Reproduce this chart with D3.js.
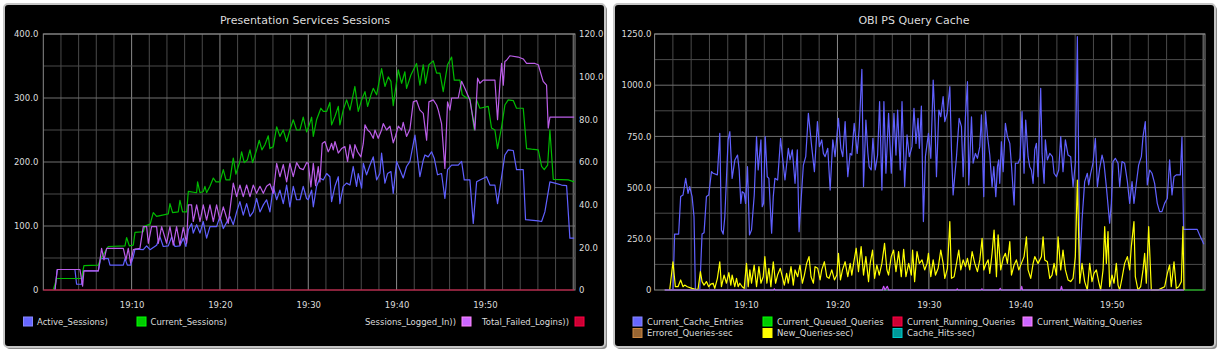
<!DOCTYPE html>
<html><head><meta charset="utf-8">
<script src="https://cdn.jsdelivr.net/npm/d3@7"></script>
<style>
body{margin:0;background:#fff;}
svg{display:block;}
text{font-family:"DejaVu Sans",sans-serif;}
</style></head><body>
<svg id="c" width="1223" height="358"></svg>
<script>
// ---------- DATA (time in minutes after 19:00, value) ----------
const xTickMinutes = [10, 20, 30, 40, 50];
const xTickLabels = ["19:10", "19:20", "19:30", "19:40", "19:50"];
const sessionTicksLeft = [0, 100, 200, 300, 400];
const sessionTicksRight = [0, 20, 40, 60, 80, 100, 120];
const cacheTicks = [0, 250, 500, 750, 1000, 1250];

const activeSessions = [[1.32,0],[1.58,32],[3.58,32],[3.77,9],[4.34,9],[4.53,30],[6.23,30],[6.49,49],[7.36,49],[7.55,39],[9.06,39],[9.25,49],[9.51,39],[9.89,39],[10.19,52],[10.38,64],[11.32,63],[11.7,69],[12.08,63],[12.83,70],[13.21,83],[13.58,68],[14.15,69],[14.53,83],[14.91,68],[15.47,69],[15.85,81],[16.15,68],[16.42,94],[16.79,104],[16.98,89],[17.36,102],[17.74,89],[18.11,107],[18.49,81],[18.87,99],[19.62,99],[20,115],[20.38,96],[21.13,115],[21.51,102],[21.89,122],[22.26,138],[22.64,117],[23.02,135],[23.4,115],[23.77,122],[24.15,143],[24.53,122],[24.91,133],[25.28,141],[25.66,122],[26.04,162],[26.42,141],[26.79,156],[27.17,135],[27.55,164],[27.92,130],[28.3,162],[28.68,141],[29.06,141],[29.43,162],[29.81,143],
[30,141],[30.38,156],[30.57,130],[30.94,162],[31.32,175],[31.7,172],[32.08,182],[32.45,177],[32.64,138],[33.02,162],[33.4,177],[33.58,135],[33.96,162],[34.34,167],[34.72,164],[35.09,193],[35.47,162],[35.66,182],[36.04,159],[36.23,198],[36.6,180],[36.98,195],[37.36,208],[37.74,172],[38.11,182],[38.3,214],[38.68,167],[38.98,182],[39.36,185],[39.62,151],[40,201],[40.38,188],[40.75,175],[41.13,193],[41.51,201],[42.08,242],[42.45,198],[42.64,177],[43.02,203],[43.21,211],[43.58,208],[43.96,216],[44.26,206],[44.64,180],[45.09,182],[45.47,143],[45.77,188],[46.23,195],[46.98,195],[47.36,201],[47.66,172],[48.3,172],[48.68,104],[49.06,169],[49.43,172],[50.19,177],[50.57,164],[51.13,164],[51.43,135],[51.89,177],[52.26,211],[52.64,219],[53.21,218],[53.58,188],[54.34,188],[54.6,110],[56.04,108],[56.42,107],[56.79,122],[57.36,169],[57.92,167],[58.68,164],[59.25,163],[59.62,81],[60.11,81]];

const currentSessions = [[1.13,0],[1.51,18],[4.34,18],[4.6,38],[6.23,39],[6.42,47],[7.36,68],[9.25,69],[9.43,82],[9.74,69],[10.19,70],[10.38,90],[11.32,91],[11.5,100],[12.1,103],[12.45,121],[12.83,115],[14.15,119],[14.34,135],[14.64,121],[15.28,122],[15.47,140],[15.77,122],[16.23,122],[16.42,154],[17.36,152],[17.47,169],[17.74,152],[18.11,154],[18.3,162],[18.49,152],[18.87,162],[19.25,175],[19.55,169],[20,169],[20.38,188],[20.68,172],[21.13,172],[21.51,206],[21.81,181],[22.26,201],[22.45,216],[22.75,199],[23.09,203],[23.4,219],[23.7,199],[24.15,219],[24.45,234],[24.75,219],[25.09,227],[25.47,241],[25.66,221],[26.04,224],[26.42,255],[26.79,240],[27.17,250],[27.55,232],[27.92,250],[28.3,266],[28.68,250],[29.06,250],[29.43,270],[29.81,247],
[30,253],[30.38,270],[30.57,240],[30.94,266],[31.43,284],[31.7,279],[32.08,279],[32.45,293],[32.64,258],[33.02,271],[33.4,287],[33.58,258],[33.96,281],[34.34,297],[34.72,281],[35.28,318],[35.66,279],[36.04,297],[36.42,310],[36.72,287],[37.1,305],[37.36,315],[37.74,305],[38.3,346],[38.68,318],[39.06,333],[39.36,326],[39.62,288],[40.19,344],[40.57,323],[40.94,341],[41.13,315],[41.62,336],[42.26,354],[42.64,320],[43.02,352],[43.28,323],[43.66,352],[44.15,358],[44.53,339],[44.91,339],[45.28,310],[45.77,352],[46.23,364],[46.53,328],[47.17,328],[47.43,305],[47.92,300],[48.3,300],[48.79,250],[49.06,297],[49.43,284],[50.38,287],[50.75,253],[51.13,250],[51.43,221],[51.89,255],[52.26,289],[52.64,297],[53.21,296],[53.58,284],[54.34,284],[54.72,221],[55.28,220],[56.04,219],[56.42,193],[56.72,188],[57.1,195],[57.36,250],[57.74,173],[59.43,172],[60.11,169]];

const sessionsLoggedIn = [[1.32,0],[1.58,32],[4.15,32],[4.45,6],[4.6,30],[6.23,30],[6.42,47],[6.6,65],[6.87,47],[7.17,65],[9.06,65],[9.36,47],[9.62,65],[9.89,42],[10.19,63],[10.94,65],[11.32,99],[11.7,99],[11.89,73],[12.26,99],[12.83,99],[13.02,73],[13.4,99],[13.96,73],[14.34,99],[14.72,70],[15.09,99],[15.47,70],[15.85,98],[16.23,73],[16.42,133],[16.79,133],[16.98,107],[17.36,133],[17.74,107],[18.11,133],[18.49,109],[18.87,133],[19.25,107],[19.62,133],[20,109],[20.38,130],[20.94,104],[21.51,167],[21.89,146],[22.26,164],[22.64,146],[23.02,164],[23.4,146],[23.77,164],[24.15,151],[24.53,162],[24.91,151],[25.28,162],[25.66,166],[26.04,151],[26.42,198],[26.79,177],[27.17,196],[27.55,169],[27.92,198],[28.3,177],[28.68,199],[29.06,190],[29.43,188],[29.81,199],
[30,198],[30.3,161],[30.57,198],[30.83,163],[31.13,193],[31.32,169],[31.58,229],[31.89,232],[32.26,216],[32.45,221],[32.64,229],[32.83,219],[33.02,232],[33.4,214],[33.77,221],[34.15,224],[34.45,201],[34.72,227],[35.09,206],[35.28,227],[35.58,216],[35.96,208],[36.23,229],[36.42,258],[36.72,250],[36.98,247],[37.36,237],[37.55,250],[37.92,237],[38.3,250],[38.49,260],[38.87,250],[39.25,256],[39.62,230],[39.89,241],[40.19,256],[40.57,250],[40.75,262],[41.13,240],[41.51,251],[41.89,294],[42.26,296],[42.64,281],[43.02,276],[43.4,234],[43.66,294],[44.15,297],[44.53,289],[44.72,281],[45.09,260],[45.47,190],[45.77,294],[46.04,281],[46.23,300],[46.98,300],[47.36,326],[47.74,315],[48.3,297],[48.68,266],[48.87,250],[49.17,331],[49.43,323],[49.81,328],[51.13,328],[51.43,266],[51.7,323],[51.89,354],[52.08,320],[52.26,357],[52.45,359],[52.83,366],[53.77,364],[54.34,361],[54.72,354],[55.66,354],[56.04,352],[56.6,326],[56.98,320],[57.17,253],[57.36,270],[60.11,270]];

const totalFailedLogins = [[0,0],[60.11,0]];

const cacheEntries = [[2.01,0],[2.19,273],[2.63,273],[2.85,456],[3.11,464],[3.4,545],[3.66,472],[3.84,505],[4.1,456],[4.31,358],[4.46,0],[4.94,0],[5.19,273],[5.41,280],[5.67,456],[5.92,464],[6.22,578],[6.4,570],[6.87,562],[7.13,765],[7.31,293],[7.5,273],[7.68,358],[8.04,733],[8.23,773],[8.48,545],[8.78,635],[9.07,659],[9.25,586],[9.43,423],[9.58,480],[9.8,472],[9.95,423],[10.16,602],[10.38,269],[10.6,293],[10.9,464],[11.15,749],[11.33,586],[11.63,733],[11.77,407],[11.92,423],[12.1,749],[12.32,553],[12.5,545],[12.8,277],[12.98,456],[13.16,545],[13.46,537],[13.78,741],[14,643],[14.26,537],[14.63,692],[14.81,635],[15.06,684],[15.36,521],[15.61,684],[15.8,285],[16.27,610],[16.53,651],[16.82,863],[17.18,700],[17.48,578],[17.81,822],[18.03,700],[18.28,733],[18.46,667],[18.65,651],[18.94,692],[19.2,488],[19.49,733],[19.74,651],[20.11,838],[20.37,692],[20.58,651],[20.84,822],[21.13,553],[21.39,667],[21.57,659],[21.83,814],[22.01,733],[22.16,667],[22.38,790],[22.67,1078],[22.85,505],[23.11,830],[23.33,667],[23.47,602],[23.69,586],[23.88,741],[24.13,586],[24.39,659],[24.61,920],[24.86,488],[25.08,920],[25.3,570],[25.59,863],[25.89,570],[26.18,863],[26.4,659],[26.58,879],[26.87,586],[27.06,920],[27.35,505],[27.61,757],[27.86,651],[28.15,700],[28.37,887],[28.59,716],[28.81,838],[28.96,692],[29.18,898],[29.4,334],[29.62,651],
[29.95,765],[30.21,643],[30.47,1025],[30.65,846],[30.83,553],[31.09,879],[31.3,846],[31.56,944],[31.74,822],[32,863],[32.29,993],[32.47,684],[32.65,464],[33.02,651],[33.31,838],[33.56,798],[33.75,553],[34,846],[34.22,1017],[34.36,513],[34.66,846],[34.84,619],[35.09,667],[35.31,643],[35.57,700],[35.75,855],[36,456],[36.19,871],[36.4,757],[36.66,659],[36.91,505],[37.1,602],[37.32,456],[37.5,602],[37.64,635],[37.75,521],[37.93,724],[38.12,578],[38.37,814],[38.59,749],[38.85,716],[39.03,610],[39.32,415],[39.46,619],[39.76,619],[39.97,643],[40.19,871],[40.41,570],[40.59,830],[40.85,651],[41.03,602],[41.21,586],[41.4,521],[41.58,684],[41.76,716],[41.94,553],[42.23,985],[42.38,667],[42.6,521],[42.74,733],[42.96,635],[43.22,667],[43.51,651],[43.69,570],[43.95,553],[44.2,586],[44.42,749],[44.67,578],[44.93,733],[45.22,659],[45.51,651],[45.77,505],[46.02,619],[46.24,1237],[46.5,106],[46.75,342],[47.04,529],[47.33,570],[47.48,513],[47.7,570],[47.95,619],[48.21,741],[48.43,505],[48.68,594],[48.94,659],[49.15,619],[49.41,505],[49.59,415],[49.77,326],[49.96,423],[50.14,627],[50.39,643],[50.69,619],[50.87,505],[51.12,627],[51.41,619],[51.71,529],[51.96,423],[52.22,529],[52.43,423],[52.69,521],[52.94,610],[53.24,651],[53.42,749],[53.67,822],[53.89,513],[54.15,586],[54.4,570],[54.69,521],[54.98,423],[55.24,383],[55.49,383],[55.78,423],[56.08,448],[56.33,635],[56.59,464],[56.81,553],[57.06,562],[57.5,562],[57.68,746],[57.86,296],[59.35,296],[59.61,269],[60.08,223]];

const newQueries = [[1.65,0],[2.01,138],[2.27,16],[2.56,16],[2.85,49],[3.11,16],[3.29,24],[3.58,16],[4.1,8],[4.46,3],[4.75,3],[5.01,90],[5.19,41],[5.41,24],[5.67,41],[5.92,16],[6.14,29],[6.4,33],[6.58,8],[6.87,57],[7.13,138],[7.31,16],[7.6,73],[7.86,33],[8.12,85],[8.34,24],[8.48,73],[8.77,16],[8.96,57],[9.14,16],[9.32,33],[9.58,16],[9.8,8],[10.05,130],[10.24,16],[10.42,98],[10.6,33],[10.89,122],[11.15,16],[11.41,114],[11.63,33],[11.88,65],[12.06,163],[12.28,33],[12.5,106],[12.72,16],[12.98,138],[13.23,33],[13.45,73],[13.75,106],[13.97,65],[14.19,24],[14.44,81],[14.62,33],[14.92,114],[15.17,24],[15.36,98],[15.65,65],[15.9,122],[16.16,33],[16.38,73],[16.63,130],[16.89,163],[17.11,65],[17.37,33],[17.55,114],[17.84,106],[18.1,49],[18.28,98],[18.57,138],[18.83,65],[19.08,57],[19.38,98],[19.67,49],[19.93,73],[20.11,179],[20.33,49],[20.55,98],[20.84,138],[21.13,65],[21.39,130],[21.57,73],[21.83,147],[22.05,204],[22.3,90],[22.59,212],[22.85,73],[23.11,163],[23.4,41],[23.58,130],[23.84,195],[24.06,57],[24.31,122],[24.57,73],[24.86,130],[25.15,228],[25.41,98],[25.59,73],[25.88,163],[26.14,195],[26.4,90],[26.69,187],[26.98,65],[27.24,199],[27.49,65],[27.79,130],[28.08,73],[28.22,195],[28.44,41],[28.7,187],[28.96,130],[29.25,147],[29.54,98],[29.8,130],
[29.95,179],[30.21,65],[30.47,147],[30.72,73],[31.01,106],[31.3,195],[31.56,130],[31.74,57],[32.03,106],[32.29,334],[32.47,57],[32.76,65],[33.02,130],[33.27,195],[33.49,98],[33.75,147],[34,114],[34.22,155],[34.47,98],[34.73,187],[35.02,130],[35.31,90],[35.57,147],[35.82,252],[36,98],[36.19,122],[36.48,147],[36.66,81],[36.91,179],[37.13,293],[37.39,65],[37.57,269],[37.86,98],[38.12,155],[38.37,179],[38.59,130],[38.85,236],[39.03,73],[39.32,122],[39.57,147],[39.83,98],[40.12,130],[40.41,163],[40.67,260],[40.85,98],[41.14,57],[41.4,130],[41.58,163],[41.94,130],[42.31,163],[42.49,260],[42.67,147],[42.96,138],[43.22,57],[43.47,73],[43.69,130],[43.95,73],[44.13,260],[44.42,98],[44.67,195],[44.93,98],[45.22,49],[45.51,41],[45.77,57],[46.02,163],[46.24,537],[46.5,33],[46.75,130],[47.04,41],[47.33,0],[47.59,130],[47.84,41],[48.06,81],[48.32,98],[48.57,41],[48.79,0],[49.05,98],[49.23,309],[49.41,130],[49.59,285],[49.77,16],[50.03,73],[50.25,33],[50.5,130],[50.69,24],[50.87,0],[51.12,57],[51.41,130],[51.71,163],[51.96,98],[52.14,212],[52.43,334],[52.58,65],[52.87,0],[53.16,16],[53.42,98],[53.6,179],[53.78,33],[54.04,309],[54.33,0],[55.06,0],[55.42,8],[55.79,16],[56.08,81],[56.33,122],[56.51,16],[56.81,138],[57.06,8],[57.32,16],[57.61,41],[57.79,309],[57.9,0]];

const waitingQueries = [[1.1,0],[13.0,0],[13.1,6],[13.2,0],[24.9,0],[25.05,18],[25.2,0],[25.45,18],[25.6,0],[33.0,0],[33.1,6],[33.2,0],[35.7,0],[35.8,6],[35.9,0],[37.7,0],[37.8,8],[37.9,0],[40.05,0],[40.15,18],[40.25,0],[44.4,0],[44.5,18],[44.6,0],[57.9,0]];
const queuedQueries = [[1.1,0],[60.1,0]];
const runningQueries = [[1.1,0],[57.9,0]];
const erroredQueries = [[1.1,0],[57.9,0]];
const cacheHits = [[1.1,0],[57.9,0]];

// ---------- DRAWING ----------
const svg = d3.select("#c");
const xDomain = [0, 60.2];
const gridMinor = "#4a4a4a", gridMajor = "#8a8a8a", txt = "#dcdcdc";
const fmt = d => d === 0 ? "0" : d.toFixed(1);

function panelFrame(px, pw, title, titleX) {
  svg.append("rect").attr("x", px + 2).attr("y", 6).attr("width", pw).attr("height", 343)
    .attr("rx", 4).attr("fill", "#8a8a8a");
  svg.append("rect").attr("x", px).attr("y", 4).attr("width", pw).attr("height", 343)
    .attr("rx", 4).attr("fill", "#000").attr("stroke", "#c6c6c6").attr("stroke-width", 2);
  svg.append("text").attr("x", titleX).attr("y", 20).attr("text-anchor", "middle")
    .attr("dominant-baseline", "central").attr("fill", txt).attr("font-size", 11).text(title);
}

function plot(x, y, yStep, yMax, labelTicks) {
  const g = svg.append("g");
  const [x0, x1] = x.range();
  const [yb, yt] = y.range();
  d3.range(2, 60.01, 2).forEach(m => {
    const major = m % 10 === 0;
    g.append("line").attr("x1", x(m)).attr("x2", x(m)).attr("y1", yt).attr("y2", yb)
      .attr("stroke", major ? gridMajor : gridMinor).attr("stroke-width", 1);
  });
  d3.range(yStep, yMax + 0.01, yStep).forEach(v => {
    const major = labelTicks.includes(v);
    g.append("line").attr("x1", x0).attr("x2", x1).attr("y1", y(v)).attr("y2", y(v))
      .attr("stroke", major ? "#707070" : gridMinor).attr("stroke-width", 1);
  });
  g.append("rect").attr("x", x0).attr("y", yt).attr("width", x1 - x0).attr("height", yb - yt)
    .attr("fill", "none").attr("stroke", gridMajor).attr("stroke-width", 1);
  return g;
}

function styleAxis(sel) {
  sel.select(".domain").remove();
  sel.selectAll("text").attr("fill", txt).attr("font-size", 8.5).attr("font-family", "DejaVu Sans");
}

function drawLine(x, y, data, color) {
  svg.append("path").datum(data).attr("fill", "none").attr("stroke", color)
    .attr("stroke-width", 1.2).attr("stroke-linejoin", "round")
    .attr("d", d3.line().x(d => x(d[0])).y(d => y(d[1])));
}

function legend(items) {
  items.forEach(it => {
    svg.append("rect").attr("x", it.sx).attr("y", it.y - 4.5).attr("width", 9).attr("height", 9)
      .attr("fill", it.color).attr("stroke", d3.color(it.color).brighter(0.8)).attr("stroke-width", 1);
    svg.append("text").attr("x", it.tx).attr("y", it.y).attr("text-anchor", it.anchor || "start")
      .attr("dominant-baseline", "central").attr("fill", txt).attr("font-size", 8.5).text(it.label);
  });
}

// ----- Left panel -----
panelFrame(4, 601, "Presentation Services Sessions", 305);
const xL = d3.scaleLinear().domain(xDomain).range([43.3, 575]);
const yL = d3.scaleLinear().domain([0, 400]).range([290, 34]);
const yR = d3.scaleLinear().domain([0, 120]).range([290, 34]);
plot(xL, yL, 50, 400, sessionTicksLeft);
svg.append("g").attr("transform", "translate(43.3,0)")
  .call(d3.axisLeft(yL).tickValues(sessionTicksLeft).tickFormat(fmt).tickSize(0).tickPadding(5)).call(styleAxis);
svg.append("g").attr("transform", "translate(575,0)")
  .call(d3.axisRight(yR).tickValues(sessionTicksRight).tickFormat(fmt).tickSize(0).tickPadding(4)).call(styleAxis);
svg.append("g").attr("transform", "translate(0,290)")
  .call(d3.axisBottom(xL).tickValues(xTickMinutes).tickFormat((d, i) => xTickLabels[i]).tickSize(0).tickPadding(12)).call(styleAxis);

const cBlue = "#6060ff", cGreen = "#00bb00", cPurple = "#bb5ee8", cRed = "#cc0033";
drawLine(xL, yL, activeSessions, cBlue);
drawLine(xL, yL, currentSessions, cGreen);
drawLine(xL, yL, sessionsLoggedIn, cPurple);
drawLine(xL, yL, totalFailedLogins, cRed);

legend([
  {label: "Active_Sessions)", color: "#6666ff", sx: 23.5, tx: 37, y: 321.5},
  {label: "Current_Sessions)", color: "#00cc00", sx: 137, tx: 150.5, y: 321.5},
  {label: "Sessions_Logged_In))", color: "#cc66ff", sx: 462, tx: 456, y: 321.5, anchor: "end"},
  {label: "Total_Failed_Logins))", color: "#cc0033", sx: 575, tx: 569, y: 321.5, anchor: "end"}
]);

// ----- Right panel -----
panelFrame(614, 601, "OBI PS Query Cache", 914);
const xC = d3.scaleLinear().domain(xDomain).range([654.6, 1205]);
const yC = d3.scaleLinear().domain([0, 1250]).range([290, 34]);
plot(xC, yC, 125, 1250, cacheTicks);
svg.append("g").attr("transform", "translate(655.3,0)")
  .call(d3.axisLeft(yC).tickValues(cacheTicks).tickFormat(fmt).tickSize(0).tickPadding(4)).call(styleAxis);
svg.append("g").attr("transform", "translate(0,290)")
  .call(d3.axisBottom(xC).tickValues(xTickMinutes).tickFormat((d, i) => xTickLabels[i]).tickSize(0).tickPadding(12)).call(styleAxis);

drawLine(xC, yC, cacheEntries, cBlue);
drawLine(xC, yC, queuedQueries, cGreen);
drawLine(xC, yC, runningQueries, cRed);
drawLine(xC, yC, erroredQueries, "#996633");
drawLine(xC, yC, newQueries, "#ffff00");
drawLine(xC, yC, cacheHits, "#009999");
drawLine(xC, yC, waitingQueries, "#cc55ff");

legend([
  {label: "Current_Cache_Entries", color: "#6666ff", sx: 633, tx: 647, y: 321.5},
  {label: "Current_Queued_Queries", color: "#00cc00", sx: 763, tx: 777, y: 321.5},
  {label: "Current_Running_Queries", color: "#cc0033", sx: 893, tx: 907, y: 321.5},
  {label: "Current_Waiting_Queries", color: "#cc66ff", sx: 1023, tx: 1037, y: 321.5},
  {label: "Errored_Queries-sec", color: "#996633", sx: 633, tx: 647, y: 333},
  {label: "New_Queries-sec)", color: "#ffff00", sx: 763, tx: 777, y: 333},
  {label: "Cache_Hits-sec)", color: "#009999", sx: 893, tx: 907, y: 333}
]);
</script></body></html>
